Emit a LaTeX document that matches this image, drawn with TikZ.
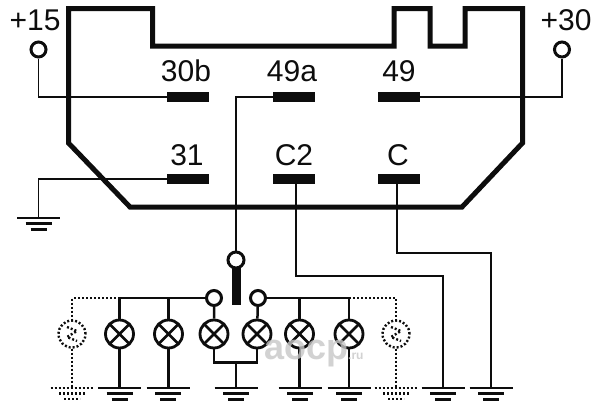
\documentclass[tikz,border=0pt]{standalone}
\usepackage{fontspec}
\setmainfont{Liberation Sans}
\usetikzlibrary{calc}
\definecolor{ink}{gray}{0.05}
\definecolor{wm}{gray}{0.78}
\tikzset{
  x=1pt,y=-1pt,
  lbl/.style={inner sep=0pt,anchor=base,text=ink,font=\fontsize{30}{30}\selectfont},
  pin/.style={fill=ink,draw=none,minimum width=42pt,minimum height=10pt,inner sep=0pt,rectangle},
  wire/.style={draw=ink,line width=1.8pt},
  bwire/.style={draw=ink,line width=2.5pt},
  case/.style={draw=ink,line width=5pt,line join=miter},
  term/.style={circle,draw=ink,fill=white,line width=3pt,minimum size=15pt,inner sep=0pt},
  lamp/.style={circle,draw=ink,fill=white,line width=2.8pt,minimum size=28pt,inner sep=0pt,
    path picture={\draw[ink,line width=2.8pt]
      (path picture bounding box.south west)--(path picture bounding box.north east)
      (path picture bounding box.south east)--(path picture bounding box.north west);}},
  dots/.style={line width=2.4pt,dash pattern=on 2pt off 2pt},
  dlamp/.style={circle,draw=ink,fill=white,dots,minimum size=27pt,inner sep=0pt},
  dwire/.style={draw=ink,dots},
  gnd/.pic={
    \draw[ink,line width=2.2pt] (-21.5,0)--(21.5,0) (-13,5.5)--(13,5.5);
    \draw[ink,line width=3pt] (-8,11.5)--(8,11.5);
  },
  dgnd/.pic={
    \draw[ink,dots] (-21.5,0)--(21.5,0) (-13,5.5)--(13,5.5) (-8,11)--(8,11);
  },
}
\begin{document}
\begin{tikzpicture}
\useasboundingbox[fill=white] (0,0) rectangle (600,400);
% case
\draw[case] (68.5,8.5)--(152.5,8.5)--(152.5,46)--(394,46)--(394,8.5)--(430,8.5)--(430,46)--(465,46)--(465,8.5)--(522.5,8.5)--(522.5,143)--(462,207)--(130,207)--(68.5,143)--cycle;
% pins
\node[pin] (p30b) at (188,97) {};
\node[pin] (p49a) at (294,97) {};
\node[pin] (p49) at (399,97) {};
\node[pin] (p31) at (188,179) {};
\node[pin] (pC2) at (294,179) {};
\node[pin] (pC) at (399,179) {};
% labels
\node[lbl] (t30b) at (186,81.5) {30b};
\node[lbl] (t49a) at (292,81.5) {49a};
\node[lbl] (t49) at (399,81.5) {49};
\node[lbl] (t31) at (187,165.5) {31};
\node[lbl] (tC2) at (294,165.5) {C2};
\node[lbl] (tC) at (398,165.5) {C};
\node[lbl] (t15) at (35,30) {+15};
\node[lbl] (t30) at (566,30) {+30};
% top terminals
\node[term] (k15) at (38.5,49.5) {};
\node[term] (k30) at (562,49.5) {};
\draw[wire] (k15) |- (p30b);
\draw[wire] (k30) |- (p49);
\coordinate (g31) at (38.5,218);
\draw[wire] (p31) -| (g31);
\pic at (g31) {gnd};
% switch
\node[term,minimum size=16pt] (sw) at (236,260) {};
\node[term] (cl) at (214,298) {};
\node[term] (cr) at (258,298) {};
\draw[wire] (p49a.west) -| (sw.north);
\node[fill=ink,minimum width=9pt,minimum height=37pt,inner sep=0pt] (arm) at (236,286) {};
% lamps
\coordinate (ja) at (119.5,298);
\coordinate (jf) at (349,298);
\draw[bwire] (cl)--(ja) (cr)--(jf);
\foreach \n/\x in {a/119.5,b/168.5,c/214,d/257,e/299.5,f/349}{
  \node[lamp] (l\n) at (\x,334) {};
}
\coordinate (gc) at (236,388);
\coordinate (gx) at (443,388);
\coordinate (gy) at (491,388);
\draw[bwire] (ja)--(la) (jf)--(lf);
\draw[bwire] (168.5,298)--(lb);
\draw[bwire] (299.5,298)--(le);
\draw[bwire] (cl)--(lc) (cr)--(ld);
\draw[bwire] (la)--(119.5,388) (lb)--(168.5,388) (le)--(299.5,388) (lf)--(349,388);
\coordinate (jm) at (236,362.5);
\draw[bwire] (lc) |- (jm) -| (ld);
\draw[bwire] (jm)--(gc);
% C2, C
\coordinate (c2a) at (296,276);
\coordinate (ca) at (397,253);
\draw[bwire] (pC2.south -| c2a) -- (c2a) -- (c2a -| gx) -- (gx);
\draw[bwire] (pC.south -| ca) -- (ca) -- (ca -| gy) -- (gy);
\foreach \x in {119.5,168,300,349}{\pic at (\x,388) {gnd};}
\pic at (gc) {gnd};
\pic at (gx) {gnd};
\pic at (gy) {gnd};
% dotted lamps
\node[dlamp] (dl) at (72,334) {};
\node[dlamp] (dr) at (396,334) {};
\coordinate (gl) at (72,388);
\coordinate (gr) at (396,388);
\draw[dwire] (ja) -| (dl);
\draw[dwire] (jf) -| (dr);
\draw[dwire] (dl)--(gl);
\draw[dwire] (dr)--(gr);
\pic at (gl) {dgnd};
\pic at (gr) {dgnd};
\draw[ink,dots] (dl.center) ++(-5,-7)--++(10,4)--++(-10,6)--++(10,4);
\draw[ink,dots] (dr.center) ++(-5,-7)--++(10,4)--++(-10,6)--++(10,4);
% watermark
\node[inner sep=0pt,anchor=base west,text=wm,opacity=0.8,font=\bfseries\fontsize{36}{36}\selectfont] (mark) at (264,359) {aocp\fontsize{12}{12}\selectfont.ru};
\end{tikzpicture}
\end{document}
